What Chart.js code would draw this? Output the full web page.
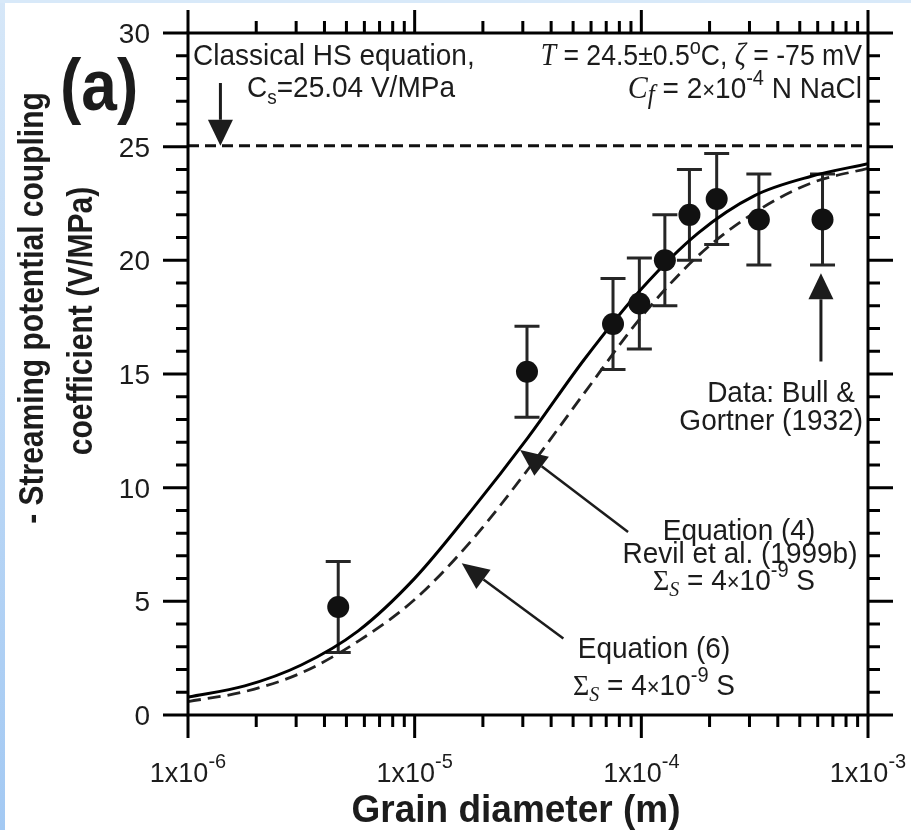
<!DOCTYPE html>
<html>
<head>
<meta charset="utf-8">
<script src="https://cdn.jsdelivr.net/npm/chart.js@4.4.1/dist/chart.umd.min.js"></script>
<style>
  html, body { margin: 0; padding: 0; background: #fff; }
  #wrap { width: 911px; height: 830px; }
</style>
</head>
<body>
<div id="wrap"><canvas id="myChart" width="911" height="830"></canvas></div>
<script>
// measured data: Bull & Gortner (1932)
const grainDiameter = [4.6e-6, 3.13e-5, 7.5e-5, 9.8e-5, 1.27e-4, 1.63e-4, 2.15e-4, 3.3e-4, 6.3e-4];
const couplingCoef = [4.75, 15.1, 17.2, 18.1, 20.0, 22.0, 22.7, 21.8, 21.8];
const coefError = [2, 2, 2, 2, 2, 2, 2, 2, 2];

// model curves at quarter decades
const curveDiameter = [1e-6, 1.78e-6, 3.16e-6, 5.62e-6, 1e-5, 1.78e-5, 3.16e-5, 5.62e-5, 1e-4, 1.78e-4, 3.16e-4, 5.62e-4, 1e-3];
const eq4Values = [0.79, 1.28, 2.2, 3.69, 6.01, 9.0, 12.2, 15.66, 18.74, 21.2, 22.85, 23.7, 24.25];
const eq6Values = [0.59, 1.03, 1.85, 3.24, 5.08, 7.67, 10.8, 14.18, 17.51, 20.2, 22.1, 23.4, 24.05];

// classical Helmholtz-Smoluchowski value
const hsValue = 25.04;

// axes
const xDecades = [-6, -5, -4, -3];
const yTicks = [0, 5, 10, 15, 20, 25, 30];

// annotation arrows [tailX, tailY, tipX, tipY] in data units
const arrowHS = [1.39e-6, 27.8, 1.39e-6, 25.04];
const arrowEq4 = [8.74e-5, 8.05, 2.92e-5, 11.66];
const arrowEq6 = [4.53e-5, 3.37, 1.613e-5, 6.67];
const arrowData = [6.2e-4, 15.55, 6.2e-4, 19.43];

const SANS = '"Liberation Sans", Arial, Helvetica, sans-serif';
const SERIF = '"Liberation Serif", "Times New Roman", serif';
const INK = '#1c1c1c';
const TALL = 1.06; // glyphs in the figure are a bit taller than Arial

function toXY(xs, ys) {
  return xs.map((x, i) => ({ x: x, y: ys[i] }));
}

// draw a run of text pieces: [text, font, dy]
function rich(ctx, x, y, segs, align, sx, sy) {
  ctx.save();
  ctx.translate(x, y);
  ctx.scale(sx || 1, sy || TALL);
  ctx.textAlign = 'left';
  ctx.textBaseline = 'alphabetic';
  let total = 0;
  const w = segs.map(s => { ctx.font = s[1]; const m = ctx.measureText(s[0]).width; total += m; return m; });
  let cx = align === 'right' ? -total : align === 'center' ? -total / 2 : 0;
  segs.forEach((s, i) => {
    ctx.font = s[1];
    ctx.fillText(s[0], cx, s[2] || 0);
    cx += w[i];
  });
  ctx.restore();
}

function arrow(ctx, x0, y0, x1, y1, headLen, headW, lw) {
  const a = Math.atan2(y1 - y0, x1 - x0);
  const bx = x1 - headLen * Math.cos(a), by = y1 - headLen * Math.sin(a);
  ctx.lineWidth = lw;
  ctx.beginPath();
  ctx.moveTo(x0, y0);
  ctx.lineTo(bx, by);
  ctx.stroke();
  ctx.beginPath();
  ctx.moveTo(x1, y1);
  ctx.lineTo(bx + headW / 2 * Math.sin(a), by - headW / 2 * Math.cos(a));
  ctx.lineTo(bx - headW / 2 * Math.sin(a), by + headW / 2 * Math.cos(a));
  ctx.closePath();
  ctx.fill();
}

const decor = {
  id: 'decor',
  beforeDraw(chart) {
    const ctx = chart.ctx;
    ctx.save();
    ctx.fillStyle = '#fff';
    ctx.fillRect(0, 0, chart.width, chart.height);
    const g = ctx.createLinearGradient(0, 0, 0, chart.height);
    g.addColorStop(0, '#d6e7f8');
    g.addColorStop(1, '#a3c9f3');
    ctx.fillStyle = g;
    ctx.fillRect(0, 0, 5, chart.height);
    ctx.fillStyle = '#d8e9f9';
    ctx.fillRect(0, 0, chart.width, 3);
    ctx.restore();
  },
  beforeDatasetsDraw(chart) {
    const ctx = chart.ctx, xs = chart.scales.x, ys = chart.scales.y;
    ctx.save();
    ctx.strokeStyle = '#262626';
    ctx.lineWidth = 3;
    grainDiameter.forEach((d, i) => {
      const px = xs.getPixelForValue(d);
      const top = ys.getPixelForValue(couplingCoef[i] + coefError[i]);
      const bot = ys.getPixelForValue(couplingCoef[i] - coefError[i]);
      ctx.beginPath();
      ctx.moveTo(px, top); ctx.lineTo(px, bot);
      ctx.moveTo(px - 12.5, top); ctx.lineTo(px + 12.5, top);
      ctx.moveTo(px - 12.5, bot); ctx.lineTo(px + 12.5, bot);
      ctx.stroke();
    });
    ctx.restore();
  },
  afterDatasetsDraw(chart) {
    const ctx = chart.ctx, xs = chart.scales.x, ys = chart.scales.y, ca = chart.chartArea;
    ctx.save();
    ctx.strokeStyle = '#000';
    ctx.fillStyle = INK;
    ctx.lineWidth = 3;
    ctx.lineCap = 'butt';
    ctx.strokeRect(ca.left, ca.top, ca.right - ca.left, ca.bottom - ca.top);

    // y ticks, both sides, outward
    ctx.beginPath();
    for (let v = 0; v <= 30; v++) {
      const len = v % 5 === 0 ? 25 : 12;
      const py = ys.getPixelForValue(v);
      ctx.moveTo(ca.left - len, py); ctx.lineTo(ca.left, py);
      ctx.moveTo(ca.right, py); ctx.lineTo(ca.right + len, py);
    }
    // x ticks, top and bottom, outward
    xDecades.forEach((e, k) => {
      const px = xs.getPixelForValue(Math.pow(10, e));
      ctx.moveTo(px, ca.bottom); ctx.lineTo(px, ca.bottom + 23);
      ctx.moveTo(px, ca.top); ctx.lineTo(px, ca.top - 23);
      if (k < xDecades.length - 1) {
        for (let m = 2; m <= 9; m++) {
          const mx = xs.getPixelForValue(m * Math.pow(10, e));
          ctx.moveTo(mx, ca.bottom); ctx.lineTo(mx, ca.bottom + 12);
          ctx.moveTo(mx, ca.top); ctx.lineTo(mx, ca.top - 12);
        }
      }
    });
    ctx.stroke();

    // tick labels
    yTicks.forEach(v => {
      rich(ctx, ca.left - 38, ys.getPixelForValue(v) + 10, [[String(v), '28px ' + SANS]], 'right', 1, 1.02);
    });
    xDecades.forEach(e => {
      rich(ctx, xs.getPixelForValue(Math.pow(10, e)), ca.bottom + 67,
        [['1x10', '27px ' + SANS], [String(e), '20px ' + SANS, -14]], 'center', 1, 1.02);
    });

    // axis titles
    rich(ctx, (ca.left + ca.right) / 2 - 12, 822, [['Grain diameter (m)', 'bold 37px ' + SANS]], 'center', 1, 1.05);
    ctx.save();
    ctx.translate(43, 308);
    ctx.rotate(-Math.PI / 2);
    rich(ctx, 0, 0, [['- Streaming potential coupling', 'bold 30px ' + SANS]], 'center', 1, 1.15);
    ctx.restore();
    ctx.save();
    ctx.translate(92, 321);
    ctx.rotate(-Math.PI / 2);
    rich(ctx, 0, 0, [['coefficient (V/MPa)', 'bold 30px ' + SANS]], 'center', 1, 1.15);
    ctx.restore();
    rich(ctx, 60, 110, [['(a)', 'bold 64px ' + SANS]], 'left', 1, 1.12);

    // annotations
    const F = '28px ' + SANS;
    rich(ctx, 193, 65, [['Classical HS equation,', F]], 'left');
    rich(ctx, 247, 97, [['C', F], ['s', '19px ' + SANS, 7], ['=25.04 V/MPa', F]], 'left');
    rich(ctx, 862, 65, [['T', 'italic 29px ' + SERIF], [' = 24.5\u00b10.5', F], ['o', '21px ' + SANS, -10],
      ['C, ', F], ['\u03b6', 'italic 29px ' + SERIF], [' = -75 mV', F]], 'right', 0.95);
    rich(ctx, 862, 98, [['C', 'italic 30px ' + SERIF], ['f', 'italic 25px ' + SERIF, 5], [' = 2', F],
      ['\u00d7', '22px ' + SANS], ['10', F], ['-4', '20px ' + SANS, -12], [' N NaCl', F]], 'right');

    rich(ctx, 739, 540, [['Equation (4)', F]], 'center');
    rich(ctx, 740, 563, [['Revil et al. (1999b)', F]], 'center');
    const sig = [['\u03a3', '28px ' + SERIF], ['S', 'italic 20px ' + SERIF, 6], [' = 4', F],
      ['\u00d7', '22px ' + SANS], ['10', F], ['-9', '20px ' + SANS, -12], [' S', F]];
    rich(ctx, 734, 590, sig, 'center');
    rich(ctx, 654, 658, [['Equation (6)', F]], 'center');
    rich(ctx, 654, 695, sig, 'center');
    rich(ctx, 855, 402, [['Data: Bull &', F]], 'right');
    rich(ctx, 863, 430, [['Gortner (1932)', F]], 'right');

    // arrows
    ctx.strokeStyle = INK;
    ctx.fillStyle = INK;
    const P = a => [xs.getPixelForValue(a[0]), ys.getPixelForValue(a[1]), xs.getPixelForValue(a[2]), ys.getPixelForValue(a[3])];
    let p = P(arrowHS); arrow(ctx, p[0], p[1], p[2], p[3], 26, 25, 3);
    p = P(arrowEq4); arrow(ctx, p[0], p[1], p[2], p[3], 27, 24, 2.5);
    p = P(arrowEq6); arrow(ctx, p[0], p[1], p[2], p[3], 27, 24, 2.5);
    p = P(arrowData); arrow(ctx, p[0], p[1], p[2], p[3], 26, 25, 3);
    ctx.restore();
  }
};

const ctx = document.getElementById('myChart');
new Chart(ctx, {
  type: 'scatter',
  data: {
    datasets: [
      {
        label: 'Measured',
        data: toXY(grainDiameter, couplingCoef),
        pointRadius: 11,
        pointHoverRadius: 11,
        backgroundColor: '#111',
        borderWidth: 0,
        order: 0
      },
      {
        type: 'line',
        label: 'Equation (4)',
        data: toXY(curveDiameter, eq4Values),
        borderColor: '#000',
        borderWidth: 3,
        pointRadius: 0,
        cubicInterpolationMode: 'monotone',
        fill: false,
        order: 1
      },
      {
        type: 'line',
        label: 'Equation (6)',
        data: toXY(curveDiameter, eq6Values),
        borderColor: '#222',
        borderWidth: 2.8,
        borderDash: [13, 7],
        pointRadius: 0,
        cubicInterpolationMode: 'monotone',
        fill: false,
        order: 2
      },
      {
        type: 'line',
        label: 'Classical HS',
        data: [{ x: curveDiameter[0], y: hsValue }, { x: curveDiameter[curveDiameter.length - 1], y: hsValue }],
        borderColor: '#111',
        borderWidth: 3,
        borderDash: [11, 6],
        pointRadius: 0,
        fill: false,
        order: 3
      }
    ]
  },
  options: {
    responsive: false,
    animation: false,
    layout: { padding: { left: 188, top: 33, right: 43, bottom: 115 } },
    plugins: { legend: { display: false }, tooltip: { enabled: false } },
    scales: {
      x: { type: 'logarithmic', min: 1e-6, max: 1e-3, display: false },
      y: { type: 'linear', min: 0, max: 30, display: false }
    }
  },
  plugins: [decor]
});
</script>
</body>
</html>
